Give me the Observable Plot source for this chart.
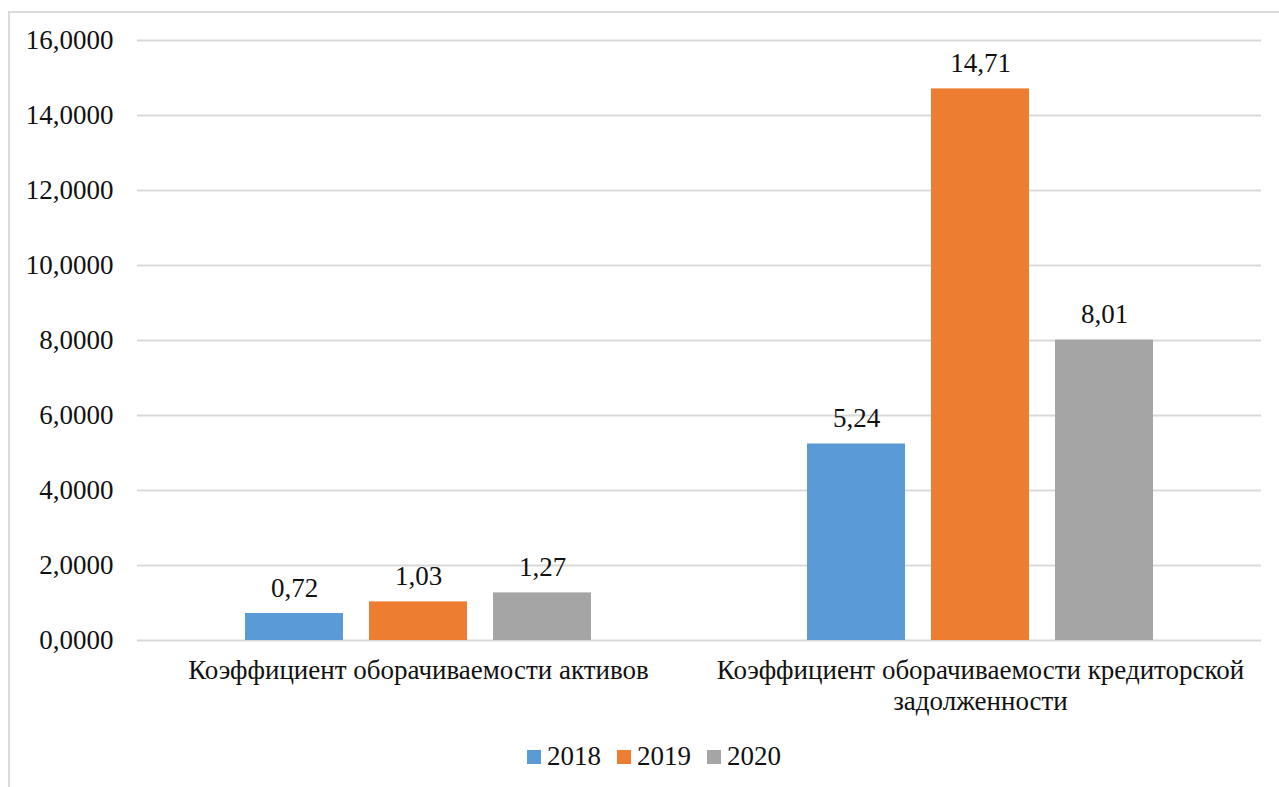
<!DOCTYPE html>
<html>
<head>
<meta charset="utf-8">
<script src="https://cdn.jsdelivr.net/npm/d3@7"></script>
<script src="https://cdn.jsdelivr.net/npm/@observablehq/plot@0.6"></script>
<style>
  html, body { margin: 0; padding: 0; background: #fff; overflow: hidden; width: 1279px; height: 787px; }
  #frame { position: absolute; left: 8px; top: 11px; width: 1400px; height: 900px; border: 2px solid #d9d9d9; box-sizing: border-box; }
  #chart { position: absolute; left: 0; top: 0; }
  #legend { position: absolute; left: 4px; top: 741px; width: 1300px; text-align: center; font-family: "Liberation Serif", "Times New Roman", serif; font-size: 27px; color: #111; }
  #legend span.item { display: inline-block; margin: 0 8px; }
  #legend span.sw { display: inline-block; width: 14px; height: 14px; margin-right: 6px; vertical-align: 1px; }
</style>
</head>
<body>
<div id="frame"></div>
<div id="chart"></div>
<div id="legend"></div>
<script>
const categories = [
  "Коэффициент оборачиваемости активов",
  "Коэффициент оборачиваемости кредиторской задолженности"
];
const categoryLabels = [
  "Коэффициент оборачиваемости активов",
  "Коэффициент оборачиваемости кредиторской\nзадолженности"
];
const years = ["2018", "2019", "2020"];
const values2018 = [0.72, 5.24];
const values2019 = [1.03, 14.71];
const values2020 = [1.27, 8.01];
const colors = ["#5B9BD5", "#ED7D31", "#A5A5A5"];
const yTicks = [0, 2, 4, 6, 8, 10, 12, 14, 16];

const series = [values2018, values2019, values2020];
const data = [];
categories.forEach((c, i) => {
  years.forEach((y, j) => data.push({cat: c, year: y, value: series[j][i]}));
});

const font = "'Liberation Serif', 'Times New Roman', serif";
const fmtTick = d => d.toFixed(4).replace(".", ",");
const fmtVal = d => d.toFixed(2).replace(".", ",");

const chart = Plot.plot({
  width: 1279,
  height: 730,
  marginLeft: 136,
  marginRight: 18,
  marginTop: 40,
  marginBottom: 90,
  style: {fontFamily: font, fontSize: "27px", color: "#111", background: "transparent"},
  fx: {domain: categories, padding: 0, axis: null},
  x: {domain: years, paddingInner: 0.208, paddingOuter: 0.854, axis: null},
  y: {domain: [0, 16], axis: null},
  color: {domain: years, range: colors},
  marks: [
    Plot.gridY(yTicks, {stroke: "#d9d9d9", strokeOpacity: 1, strokeWidth: 2}),
    Plot.axisY(yTicks, {tickSize: 0, tickPadding: 24, tickFormat: fmtTick, fontSize: 27, fill: "#111", label: null}),
    Plot.axisFx({tickSize: 0, tickPadding: 16, fontSize: 27, fill: "#111", lineHeight: 1.15, label: null,
      tickFormat: d => categoryLabels[categories.indexOf(d)], anchor: "bottom"}),
    Plot.barY(data, {fx: "cat", x: "year", y: "value", fill: "year"}),
    Plot.text(data, {fx: "cat", x: "year", y: "value", text: d => fmtVal(d.value), dy: -17, lineAnchor: "bottom", fontSize: 27, fill: "#111"})
  ]
});
document.getElementById("chart").appendChild(chart);

const legend = document.getElementById("legend");
years.forEach((y, i) => {
  const item = document.createElement("span");
  item.className = "item";
  const sw = document.createElement("span");
  sw.className = "sw";
  sw.style.background = colors[i];
  item.appendChild(sw);
  item.appendChild(document.createTextNode(y));
  legend.appendChild(item);
});
</script>
</body>
</html>
